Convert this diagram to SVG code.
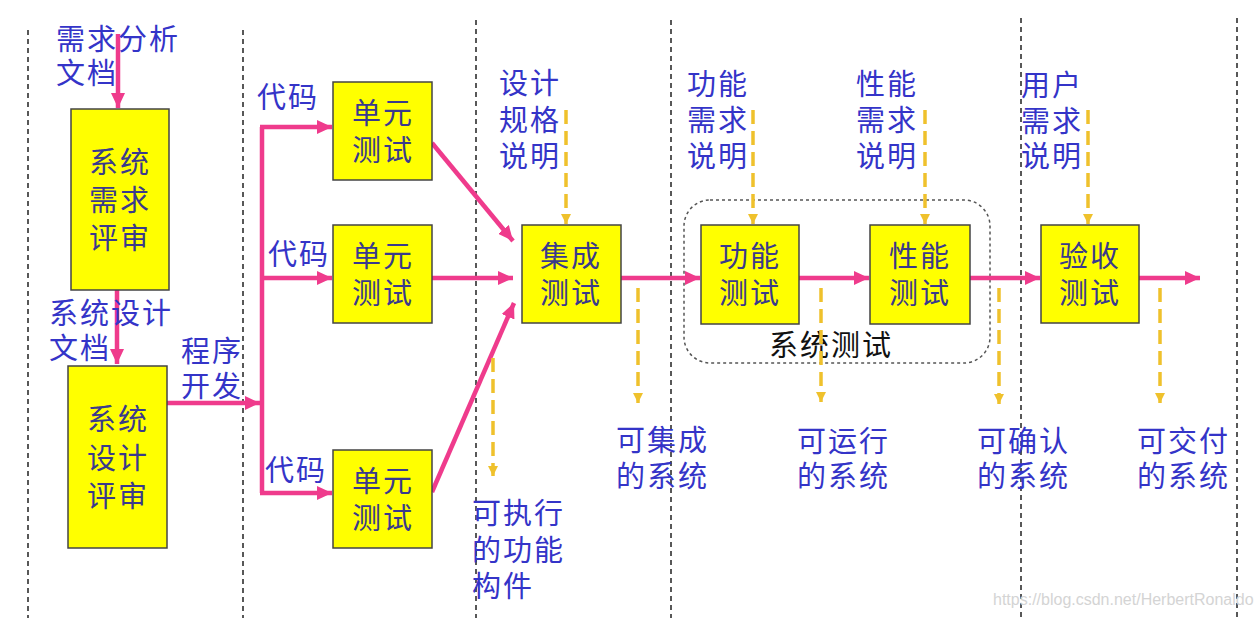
<svg xmlns="http://www.w3.org/2000/svg" width="1260" height="618" viewBox="0 0 1260 618">
<style>
.lane{stroke:#222;stroke-width:1.5;stroke-dasharray:5 4;fill:none}
.box{fill:#ffff00;stroke:#444;stroke-width:1.5}
.bt{font-family:"Noto Sans CJK SC","Noto Sans",sans-serif;font-size:29px;letter-spacing:2px;fill:#3a3a8c}
.lb{font-family:"Noto Sans CJK SC","Noto Sans",sans-serif;font-size:29px;letter-spacing:2px;fill:#3434c8}
.flow{stroke:#ef3b8c;stroke-width:4.5;fill:none;marker-end:url(#pk)}
.doc{stroke:#efc12c;stroke-width:3.5;stroke-dasharray:14 7;fill:none;marker-end:url(#yl)}
.grp{fill:none;stroke:#555;stroke-width:1.5;stroke-dasharray:3 3}
</style>
<defs>
<marker id="pk" markerUnits="userSpaceOnUse" markerWidth="16" markerHeight="14" refX="15" refY="7" orient="auto"><path d="M0,0 L15,7 L0,14 z" fill="#ef3b8c"/></marker>
<marker id="yl" markerUnits="userSpaceOnUse" markerWidth="11" markerHeight="10" refX="10" refY="5" orient="auto"><path d="M0,0 L10,5 L0,10 z" fill="#efc12c"/></marker>
</defs>
<rect width="1260" height="618" fill="#fff"/>
<g id="lanes">
<line class="lane" x1="28" y1="30" x2="28" y2="618"/>
<line class="lane" x1="243" y1="30" x2="243" y2="618"/>
<line class="lane" x1="476" y1="20" x2="476" y2="618"/>
<line class="lane" x1="671" y1="20" x2="671" y2="618"/>
<line class="lane" x1="1021" y1="18" x2="1021" y2="618"/>
<line class="lane" x1="1237" y1="18" x2="1237" y2="618"/>
</g>
<g id="system-test-group">
<rect class="grp" x="684" y="200" width="306" height="163" rx="26"/>
<text x="769" y="356" font-family="'Noto Sans CJK SC',sans-serif" font-size="29" letter-spacing="2" fill="#111">系统测试</text>
</g>
<g id="connectors">
<line class="flow" x1="118" y1="34" x2="118" y2="108"/>
<line class="flow" x1="117" y1="290" x2="117" y2="364"/>
<line class="flow" x1="167" y1="403" x2="260" y2="403"/>
<polyline points="262,127 262,493" fill="none" stroke="#ef3b8c" stroke-width="4.5"/>
<line class="flow" x1="260" y1="127" x2="332" y2="127"/>
<line class="flow" x1="260" y1="278" x2="332" y2="278"/>
<line class="flow" x1="260" y1="493" x2="332" y2="493"/>
<line class="flow" x1="432" y1="143" x2="513" y2="241"/>
<line class="flow" x1="432" y1="278" x2="513" y2="278"/>
<line class="flow" x1="432" y1="492" x2="514" y2="303"/>
<line class="flow" x1="621" y1="278" x2="700" y2="278"/>
<line class="flow" x1="799" y1="278" x2="869" y2="278"/>
<line class="flow" x1="970" y1="278" x2="1040" y2="278"/>
<line class="flow" x1="1139" y1="278" x2="1200" y2="278"/>
<line class="doc" x1="566" y1="110" x2="566" y2="224"/>
<line class="doc" x1="753" y1="110" x2="753" y2="224"/>
<line class="doc" x1="925" y1="110" x2="925" y2="224"/>
<line class="doc" x1="1088" y1="110" x2="1088" y2="224"/>
<line class="doc" x1="493" y1="358" x2="493" y2="476"/>
<line class="doc" x1="638" y1="288" x2="638" y2="403"/>
<line class="doc" x1="821" y1="288" x2="821" y2="402"/>
<line class="doc" x1="999" y1="288" x2="999" y2="404"/>
<line class="doc" x1="1160" y1="288" x2="1160" y2="403"/>
</g>
<g id="sys-req-review"><rect class="box" x="71" y="109" width="98" height="181"/><text class="bt"><tspan x="89" y="173">系统</tspan><tspan x="89" y="211">需求</tspan><tspan x="89" y="249">评审</tspan></text></g>
<g id="sys-design-review"><rect class="box" x="68" y="366" width="99" height="182"/><text class="bt"><tspan x="87" y="430">系统</tspan><tspan x="87" y="469">设计</tspan><tspan x="87" y="507">评审</tspan></text></g>
<g id="unit-test-1"><rect class="box" x="333" y="82" width="99" height="98"/><text class="bt"><tspan x="352" y="124">单元</tspan><tspan x="352" y="161">测试</tspan></text></g>
<g id="unit-test-2"><rect class="box" x="333" y="225" width="99" height="98"/><text class="bt"><tspan x="352" y="267">单元</tspan><tspan x="352" y="304">测试</tspan></text></g>
<g id="unit-test-3"><rect class="box" x="333" y="450" width="99" height="98"/><text class="bt"><tspan x="352" y="492">单元</tspan><tspan x="352" y="529">测试</tspan></text></g>
<g id="integration-test"><rect class="box" x="522" y="225" width="99" height="98"/><text class="bt"><tspan x="540" y="267">集成</tspan><tspan x="540" y="304">测试</tspan></text></g>
<g id="function-test"><rect class="box" x="701" y="225" width="98" height="99"/><text class="bt"><tspan x="719" y="267">功能</tspan><tspan x="719" y="304">测试</tspan></text></g>
<g id="performance-test"><rect class="box" x="870" y="225" width="100" height="99"/><text class="bt"><tspan x="889" y="267">性能</tspan><tspan x="889" y="304">测试</tspan></text></g>
<g id="acceptance-test"><rect class="box" x="1041" y="225" width="98" height="98"/><text class="bt"><tspan x="1059" y="267">验收</tspan><tspan x="1059" y="304">测试</tspan></text></g>
<g id="labels">
<text class="lb"><tspan x="56" y="50">需求分析</tspan><tspan x="56" y="84">文档</tspan></text>
<text class="lb"><tspan x="49" y="324">系统设计</tspan><tspan x="49" y="359">文档</tspan></text>
<text class="lb"><tspan x="181" y="362">程序</tspan><tspan x="181" y="397">开发</tspan></text>
<text class="lb" x="257" y="108">代码</text>
<text class="lb" x="268" y="265">代码</text>
<text class="lb" x="265" y="481">代码</text>
<text class="lb"><tspan x="499" y="94">设计</tspan><tspan x="499" y="131">规格</tspan><tspan x="499" y="167">说明</tspan></text>
<text class="lb"><tspan x="687" y="95">功能</tspan><tspan x="687" y="131">需求</tspan><tspan x="687" y="167">说明</tspan></text>
<text class="lb"><tspan x="856" y="95">性能</tspan><tspan x="856" y="131">需求</tspan><tspan x="856" y="167">说明</tspan></text>
<text class="lb"><tspan x="1021" y="96">用户</tspan><tspan x="1021" y="132">需求</tspan><tspan x="1021" y="167">说明</tspan></text>
<text class="lb"><tspan x="472" y="524">可执行</tspan><tspan x="472" y="561">的功能</tspan><tspan x="472" y="597">构件</tspan></text>
<text class="lb"><tspan x="616" y="451">可集成</tspan><tspan x="616" y="487">的系统</tspan></text>
<text class="lb"><tspan x="797" y="452">可运行</tspan><tspan x="797" y="487">的系统</tspan></text>
<text class="lb"><tspan x="977" y="452">可确认</tspan><tspan x="977" y="487">的系统</tspan></text>
<text class="lb"><tspan x="1137" y="452">可交付</tspan><tspan x="1137" y="487">的系统</tspan></text>
</g>
<text x="993" y="605" font-family="'Liberation Sans',Arial,sans-serif" font-size="16" fill="#d4d4d4">https://blog.csdn.net/HerbertRonaldo</text>
</svg>
